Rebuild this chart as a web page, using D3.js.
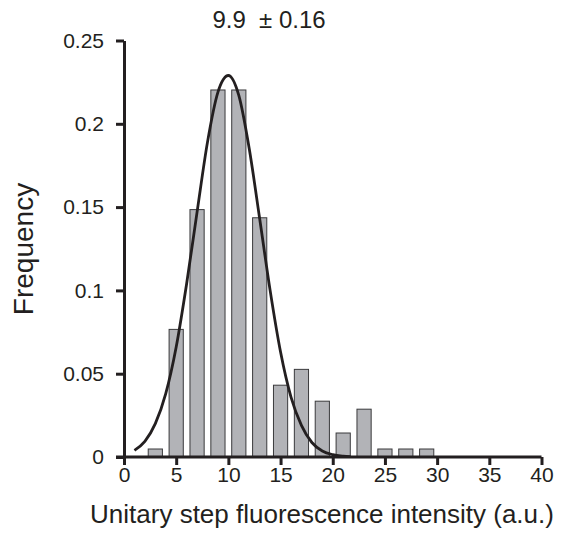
<!DOCTYPE html>
<html>
<head>
<meta charset="utf-8">
<script src="https://cdn.jsdelivr.net/npm/d3@7"></script>
<style>
  body { margin: 0; background: #fff; }
  text { font-family: "Liberation Sans", Arial, sans-serif; fill: #231f20; }
</style>
</head>
<body>
<div id="chart"></div>
<script>
const WIDTH = 567, HEIGHT = 538;

// histogram bins (bin centre) and frequencies
const binCentres = [3, 5, 7, 9, 11, 13, 15, 17, 19, 21, 23, 25, 27, 29];
const frequencies = [0.0048, 0.0766, 0.1485, 0.2203, 0.2203, 0.1436, 0.0431, 0.0526, 0.0335, 0.0144, 0.0287, 0.0048, 0.0048, 0.0048];
// fitted curve
const fitX = [1, 2, 3, 4, 5, 6, 7, 8, 9, 10, 11, 12, 13, 14, 15, 16, 17, 18, 19, 20, 21, 21.7];
const fitY = [0.004, 0.0094, 0.020, 0.038, 0.066, 0.104, 0.147, 0.189, 0.219, 0.229, 0.217, 0.185, 0.143, 0.100, 0.063, 0.036, 0.019, 0.0087, 0.0036, 0.0014, 0.0005, 0.0002];
const xTicks = [0, 5, 10, 15, 20, 25, 30, 35, 40];
const yTicks = [0, 0.05, 0.1, 0.15, 0.2, 0.25];
const yTickLabels = ["0", "0.05", "0.1", "0.15", "0.2", "0.25"];
const titleText = "9.9  \u00b1 0.16";

const svg = d3.select("#chart").append("svg")
    .attr("width", WIDTH)
    .attr("height", HEIGHT)

const x = d3.scaleLinear().domain([0, 40]).range([124, 541.5]);
const y = d3.scaleLinear().domain([0, 0.25]).range([457, 40.5]);
const BAR_W = x(1.36) - x(0);

svg.selectAll("rect.bar").data(binCentres).enter().append("rect")
    .attr("class", "bar")
    .attr("x", (d) => x(d) - BAR_W / 2)
    .attr("width", BAR_W)
    .attr("y", (d, i) => y(frequencies[i]))
    .attr("height", (d, i) => y(0) - y(frequencies[i]))
    .style("fill", "#b2b3b7")
    .style("stroke", "#3a3a3c")
    .style("stroke-width", 1)

const line = d3.line()
    .x((d) => x(d))
    .y((d, i) => y(fitY[i]))
    .curve(d3.curveMonotoneX)
svg.append("path")
    .attr("d", line(fitX))
    .style("fill", "none")
    .style("stroke", "#231f20")
    .style("stroke-width", 2.8)

const yAxis = svg.append("g")
    .attr("transform", `translate(124,0)`)
    .call(d3.axisLeft(y).tickValues(yTicks).tickFormat((d, i) => yTickLabels[i]).tickSize(8).tickSizeOuter(0).tickPadding(12))
const xAxis = svg.append("g")
    .attr("transform", `translate(0,457)`)
    .call(d3.axisBottom(x).tickValues(xTicks).tickSize(8).tickSizeOuter(0).tickPadding(2))

for (const g of [xAxis, yAxis]) {
    g.select(".domain").style("stroke", "#231f20").style("stroke-width", 3)
    g.selectAll(".tick line").style("stroke", "#231f20").style("stroke-width", 3)
    g.selectAll(".tick text")
        .style("font-family", "'Liberation Sans', Arial, sans-serif")
        .style("fill", "#231f20")
}
yAxis.selectAll(".tick text").style("font-size", "21px")
xAxis.selectAll(".tick text").style("font-size", "21px")
// x axis line reaches the y-axis tick
xAxis.select(".domain").attr("d", `M116,0H${x(40)}`)

svg.append("text")
    .attr("x", 269)
    .attr("y", 28)
    .attr("text-anchor", "middle")
    .style("font-size", "24px")
    .style("white-space", "pre")
    .text(titleText)

svg.append("text")
    .attr("transform", "translate(33,249) rotate(-90)")
    .attr("text-anchor", "middle")
    .style("font-size", "28px")
    .text("Frequency")

svg.append("text")
    .attr("x", 322)
    .attr("y", 523)
    .attr("text-anchor", "middle")
    .style("font-size", "26px")
    .text("Unitary step fluorescence intensity (a.u.)")
</script>
</body>
</html>
